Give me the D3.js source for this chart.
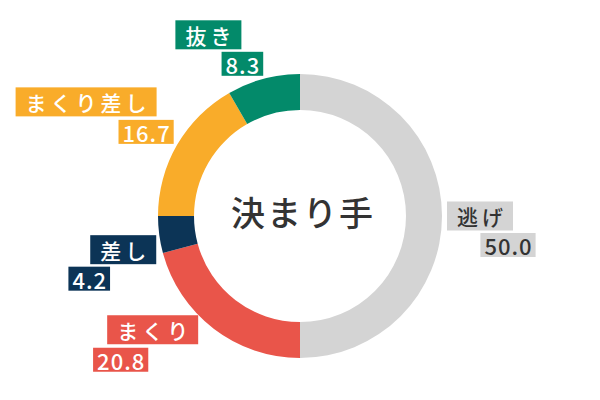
<!DOCTYPE html>
<html>
<head>
<meta charset="utf-8">
<script src="https://cdn.jsdelivr.net/npm/d3@7"></script>
<style>
  body { margin: 0; background: #fff; }
  text { font-family: "Noto Sans CJK JP", "Noto Sans", sans-serif; font-weight: 500; }
</style>
</head>
<body>
<div id="chart"></div>
<script>
// 決まり手 share (%)
const categories = ['逃げ', 'まくり', '差し', 'まくり差し', '抜き'];
const values = [50.0, 20.8, 4.2, 16.7, 8.3];
const colors = ['#d4d4d4', '#e9554a', '#0c3456', '#f9ac2a', '#038a6a'];
const textColors = ['#333333', '#ffffff', '#ffffff', '#ffffff', '#ffffff'];
const title = '決まり手';

// label box offsets from the outer edge point of each slice: [labelDx, labelDy, valueDx, valueDy]
const labelOffsets = [
  [38, 0, 66, 29],
  [-61, 1, -93, 31],
  [-36, 15, -70, 44],
  [-91, -43, -31, -13],
  [-55, -44, -21, -15]
];

const width = 600, height = 400;
const cx = 300, cy = 216;
const outerR = 142, innerR = 106;

const data = categories.map((name, i) => ({ name, value: values[i], i }));

const svg = d3.select('#chart').append('svg')
  .attr('width', width)
  .attr('height', height);

const g = svg.append('g').attr('transform', `translate(${cx},${cy})`);

const pie = d3.pie().sort(null).value(d => d.value);
const arc = d3.arc().innerRadius(innerR).outerRadius(outerR);
const edge = d3.arc().innerRadius(outerR).outerRadius(outerR);
const arcs = pie(data);

g.selectAll('.slice')
  .data(arcs)
  .enter()
  .append('path')
  .classed('slice', true)
  .attr('d', arc)
  .attr('fill', d => colors[d.data.i]);

g.append('text')
  .attr('x', 3)
  .attr('y', -5)
  .attr('text-anchor', 'middle')
  .attr('dominant-baseline', 'central')
  .attr('font-size', 34)
  .attr('letter-spacing', 2)
  .attr('fill', '#333')
  .text(title);

// draws a text with a coloured box behind it
const boxed = (parent, x, y, str, size, spacing, h, padX, fill, color) => {
  const grp = parent.append('g');
  const rect = grp.append('rect');
  const t = grp.append('text')
    .attr('x', x + spacing / 2)
    .attr('y', y)
    .attr('text-anchor', 'middle')
    .attr('dominant-baseline', 'central')
    .attr('font-size', size)
    .attr('letter-spacing', spacing)
    .attr('fill', color)
    .text(str);
  const w = t.node().getComputedTextLength() - spacing + padX * 2;
  rect.attr('x', x - w / 2)
    .attr('y', y - h / 2)
    .attr('width', w)
    .attr('height', h)
    .attr('fill', fill);
};

arcs.forEach(d => {
  const [px, py] = edge.centroid(d);
  const off = labelOffsets[d.data.i];
  const fill = colors[d.data.i];
  const color = textColors[d.data.i];
  boxed(g, px + off[0], py + off[1], d.data.name, 21, 4, 29, 10, fill, color);
  boxed(g, px + off[2], py + off[3], d.data.value.toFixed(1), 22, 1, 24, 4, fill, color);
});
</script>
</body>
</html>
